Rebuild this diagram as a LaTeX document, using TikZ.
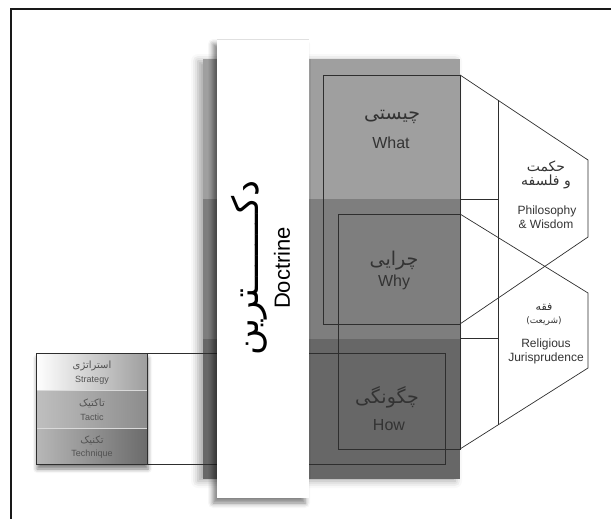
\documentclass[tikz,border=0pt]{standalone}
\usepackage{fontspec}
\setmainfont{Liberation Sans}
\newfontfamily\arabicfont[Script=Arabic]{DejaVu Sans}
\TeXXeTstate=1
\usetikzlibrary{shadows.blur}

\definecolor{bandtop}{HTML}{9F9F9F}
\definecolor{bandmid}{HTML}{7E7E7E}
\definecolor{bandlow}{HTML}{676767}
\definecolor{ink}{HTML}{333333}
\definecolor{edge}{HTML}{2E2E2E}

\newcommand\fa[1]{{\arabicfont\beginR #1\endR}}

\tikzset{
  outline/.style={draw=edge, line width=0.7pt},
  celltext/.style={text=ink, align=center, inner sep=0pt},
  sidetext/.style={text=ink, align=center, inner sep=0pt},
  smalltext/.style={text=ink!85, align=center, inner sep=0pt},
}

\begin{document}
\begin{tikzpicture}[x=1pt, y=-1pt]
\useasboundingbox (0,0) rectangle (611,519);

% frame
\draw[line width=2pt, draw=black!90] (11,519) -- (11,9) -- (611,9);

% main grey column with its three bands
\path[fill=bandtop, blur shadow={shadow xshift=-5pt, shadow yshift=-2pt,
  shadow blur radius=7pt, shadow opacity=35}] (203,59) rectangle (460,479);
\fill[bandtop] (203,59) rectangle (460,199);
\fill[bandmid] (203,199) rectangle (460,339);
\fill[bandlow] (203,339) rectangle (460,479);

% link from the strategy box to the How block
\draw[outline] (36,353) rectangle (445,464);

% white doctrine strip
\path[fill=white,
  blur shadow={shadow xshift=-4pt, shadow yshift=-5pt,
  shadow blur radius=5pt, shadow opacity=50}] (217,39) rectangle (309,498);
\draw[black!12, line width=0.5pt] (217,39) -- (309,39);

% What / Why frame and its wedge
\draw[outline] (323,75) rectangle (460,324);
\draw[outline] (460,75) -- (588,160) -- (588,237) -- (460,324);
% Why / How frame and its wedge
\draw[outline] (338,214) rectangle (460,449);
\draw[outline] (460,214) -- (588,293) -- (588,368) -- (460,449);
% dividers in the wedges
\draw[outline] (498,100) -- (498,425);
\draw[outline] (460,199) -- (498,199);
\draw[outline] (460,338) -- (498,338);

% strategy / tactic / technique box
\path[fill=white, blur shadow={shadow xshift=1pt, shadow yshift=-5pt,
  shadow blur radius=4pt, shadow opacity=50}] (36,353) rectangle (147,464);
\shade[left color=white, right color=black!38] (36,353) rectangle (147,390);
\shade[left color=black!25, right color=black!45] (36,390) rectangle (147,428);
\shade[left color=black!28, right color=black!58] (36,428) rectangle (147,464);
\draw[white!85!black, line width=0.6pt] (36,390) -- (147,390) (36,428) -- (147,428);
\draw[outline] (36,353) rectangle (147,464);

\node[smalltext, font=\fontsize{10}{11}\selectfont] (strfa) at (92,366) {\fa{استراتژی}};
\node[smalltext, font=\fontsize{9}{10}\selectfont] (stren) at (92,380) {Strategy};
\node[smalltext, font=\fontsize{10}{11}\selectfont] (tacfa) at (92,403) {\fa{تاکتیک}};
\node[smalltext, font=\fontsize{9}{10}\selectfont] (tacen) at (92,417) {Tactic};
\node[smalltext, font=\fontsize{10}{11}\selectfont] (tecfa) at (92,440) {\fa{تکنیک}};
\node[smalltext, font=\fontsize{9}{10}\selectfont] (tecen) at (92,454) {Technique};

% doctrine title
\node[rotate=90, text=black, inner sep=0pt, font=\fontsize{22}{24}\selectfont]
  (docen) at (282,268) {Doctrine};
\node[rotate=90, text=black, inner sep=0pt, font=\fontsize{36}{38}\selectfont]
  (docfa) at (249,268) {\fa{دکـــــــترین}};

% block labels
\node[celltext, font=\fontsize{19}{21}\selectfont] (whatfa) at (392,117) {\fa{چیستی}};
\node[celltext, font=\fontsize{16}{18}\selectfont] (whaten) at (391,143) {What};
\node[celltext, font=\fontsize{19}{21}\selectfont] (whyfa) at (394,261) {\fa{چرایی}};
\node[celltext, font=\fontsize{16}{18}\selectfont] (whyen) at (394,282) {Why};
\node[celltext, font=\fontsize{19}{21}\selectfont] (howfa) at (387,397) {\fa{چگونگی}};
\node[celltext, font=\fontsize{16}{18}\selectfont] (howen) at (389,425) {How};

% wedge labels
\node[sidetext, font=\fontsize{14}{15}\selectfont] (phfa1) at (546,166) {\fa{حکمت}};
\node[sidetext, font=\fontsize{14}{15}\selectfont] (phfa2) at (546,182) {\fa{و فلسفه}};
\node[sidetext, font=\fontsize{12}{13}\selectfont] (phen1) at (547,211) {Philosophy};
\node[sidetext, font=\fontsize{12}{13}\selectfont] (phen2) at (546,224) {\& Wisdom};
\node[sidetext, font=\fontsize{11}{12}\selectfont] (jufa1) at (544,307) {\fa{فقه}};
\node[sidetext, font=\fontsize{9}{10}\selectfont] (jufa2) at (544,321) {\fa{(شریعت)}};
\node[sidetext, font=\fontsize{12}{13}\selectfont] (juen1) at (546,344) {Religious};
\node[sidetext, font=\fontsize{12}{13}\selectfont] (juen2) at (546,358) {Jurisprudence};
\end{tikzpicture}
\end{document}
